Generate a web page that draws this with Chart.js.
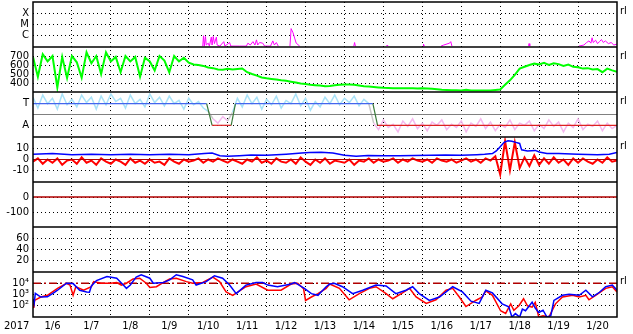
<!DOCTYPE html>
<html>
<head>
<meta charset="utf-8">
<script src="https://cdn.jsdelivr.net/npm/chart.js@4.4.1/dist/chart.umd.min.js"></script>
<style>
  html, body { margin: 0; padding: 0; background: #fff; }
  #wrap { width: 633px; height: 334px; }
</style>
</head>
<body>
<div id="wrap"><canvas id="chart" width="633" height="334"></canvas></div>
<script>
// x = days since 2017-01-06 00:00 UT
const dayLabels = ['1/6', '1/7', '1/8', '1/9', '1/10', '1/11', '1/12', '1/13', '1/14', '1/15', '1/16', '1/17', '1/18', '1/19', '1/20'];
const step3h = Array.from({ length: 121 }, (_, i) => i / 8);

// X-ray flux (W/m2)
const xrayT = [4.36, 4.38, 4.40, 4.43, 4.45, 4.50, 4.53, 4.58, 4.60, 4.63, 4.66, 4.71, 4.73, 4.80, 4.90, 4.93, 5.05, 5.08, 5.30, 5.48, 5.52, 5.58, 5.65, 5.70, 5.74, 5.77, 5.82, 5.90, 5.95, 6.10, 6.16, 6.20, 6.25, 6.30, 6.31,
  6.60, 6.63, 6.68, 6.72, 6.76, 6.85, 6.86, 8.24, 8.26, 8.28, 8.29, 9.08, 9.10, 9.12, 9.13, 10.02, 10.03, 10.05, 10.06,
  10.48, 10.55, 10.70, 10.73, 10.76, 10.77, 12.73, 12.74, 12.76, 12.77,
  14.02, 14.15, 14.22, 14.28, 14.33, 14.36, 14.39, 14.45, 14.50, 14.55, 14.60, 14.65, 14.70, 14.78, 14.85, 14.92, 15.0];
const xrayV = [1.2e-7, 1e-6, 1.2e-7, 8.7e-7, 1.5e-7, 2.2e-7, 1.2e-7, 7.6e-7, 1.5e-7, 8.7e-7, 2e-7, 7.6e-7, 1.5e-7, 1.2e-7, 3e-7, 1.2e-7, 2.5e-7, 1.2e-7, 1.2e-7, 1.2e-7, 2.2e-7, 1.5e-7, 3e-7, 1.5e-7, 4.3e-7, 1.5e-7, 2.5e-7, 2.2e-7, 1.2e-7, 1.2e-7, 3.5e-7, 1.5e-7, 2.5e-7, 1.2e-7, null,
  1.2e-7, 4.3e-6, 1.8e-6, 6.2e-7, 2.2e-7, 1.2e-7, null, 1.2e-7, 2.5e-7, 1.2e-7, null, 1.2e-7, 1.5e-7, 1.2e-7, null, 1.2e-7, 1.8e-7, 1.2e-7, null,
  1.2e-7, 1.5e-7, 2.2e-7, 3e-7, 1.2e-7, null, 1.2e-7, 2e-7, 1.2e-7, null,
  1.2e-7, 1.5e-7, 2.5e-7, 3.5e-7, 2.2e-7, 6.6e-7, 2.5e-7, 4e-7, 2e-7, 3e-7, 4.6e-7, 2.5e-7, 3.5e-7, 2e-7, 2.5e-7, 1.5e-7, 1.8e-7];
const xrayTicks = [1e-6, 1e-5, 1e-4];
const xrayLabels = ['C', 'M', 'X'];

// solar wind speed (km/s), 3-hourly
const speed = [690, 470, 720, 640, 700, 350, 690, 455,
  700, 630, 460, 740, 620, 700, 500, 740,
  640, 690, 520, 700, 640, 690, 470, 680,
  640, 540, 700, 650, 520, 700, 640, 680,
  625, 605, 600, 590, 572, 565, 550, 548,
  558, 550, 556, 562, 520, 500, 482, 462,
  452, 445, 438, 430, 425, 415, 405, 395,
  388, 380, 376, 372, 365, 368, 375, 380,
  382, 383, 380, 372, 364, 360, 355, 350,
  346, 345, 343, 342, 341, 342, 342, 340,
  341, 338, 336, 330, 325, 322, 320, 319,
  318, 326, 318, 316, 316, 316, 318, 322,
  327, 380, 430, 490, 560, 580, 600, 615,
  605, 625, 600, 620, 610, 590, 605, 580,
  575, 560, 565, 550, 555, 520, 560, 540, 525];
const speedTicks = [400, 500, 600, 700];

// IMF sector (T = 1, A = -1) and angle scatter
const sectorT = [0, 4.46, 4.6, 5.09, 5.2, 8.73, 8.85, 15];
const sectorV = [1, 1, -1, -1, 1, 1, -1, -1];
const phi = [1.6, 0.6, 1.8, 1.0, 1.5, 0.5, 1.9, 0.9, 1.4, 0.7, 1.8, 1.1, 1.6, 0.5, 1.7, 0.9,
  1.9, 1.2, 1.5, 0.6, 1.8, 1.0, 1.4, 0.7, 1.9, 1.1, 1.6, 0.8, 1.7, 1.0, 1.3, 0.5,
  1.5, 0.9, 1.2, 0.6,
  0.3, -0.4, -0.8, -0.2, -0.6, 0.2,
  1.5, 0.7, 1.8, 1.0, 1.6, 0.5, 1.4, 0.9, 1.7, 0.6, 1.3, 1.0, 1.9, 0.8, 1.5, 0.4,
  1.2, 0.7, 1.6, 1.0, 1.8, 0.9, 1.5, 1.1, 1.7, 0.8, 1.4, 1.0,
  -0.8, -1.4, -0.5, -1.2, -0.9, -1.6, -0.6, -1.1, -0.4, -1.3, -0.8, -1.5, -0.7, -1.0, -0.5, -1.4,
  -0.9, -1.2, -0.6, -1.6, -0.8, -1.1, -0.4, -1.3, -0.7, -1.5, -0.9, -1.2, -0.5, -1.4, -0.8, -1.0,
  -0.6, -1.5, -0.9, -1.3, -0.5, -1.1, -0.7, -1.6, -0.8, -1.2, -0.4, -1.4, -0.9, -1.1, -0.6, -1.5,
  -0.8, -1.3, -1.0];
const sectorTicks = [-1, 1];

// IMF Bt and Bz (nT)
const btT = [0, 0.5, 1, 1.5, 2, 2.5, 3, 3.5, 4, 4.4, 4.6, 4.8, 5.0, 5.3, 5.6, 6.0, 6.5, 6.9, 7.1, 7.4,
  7.7, 8.0, 8.3, 8.6, 9.0, 9.4, 9.8, 10.2, 10.6, 11.0, 11.4, 11.6, 11.8, 11.9, 12.0, 12.1, 12.2, 12.3, 12.4, 12.5,
  12.55, 12.7, 12.9, 13.0, 13.2, 13.5, 14.0, 14.5, 14.8, 15];
const btV = [5, 5.5, 4.5, 5, 4.5, 4.8, 4.5, 4.8, 4.5, 5.5, 6, 3.5, 3, 3.5, 4.2, 4, 5, 6, 6.5, 6.8,
  6, 4, 3, 3.8, 3.5, 3.6, 3.8, 4, 4.2, 4, 4.5, 4.8, 5.5, 8, 12, 16, 17.5, 17, 16, 15,
  9, 8, 8.5, 7, 5.5, 5.5, 5, 4.5, 5, 6.5];
const bz = [-2, 1, -4, 0, -3, 1, -5, -1,
  0, -4, 2, -3, -1, -5, 1, -2,
  -4, 0, -2, -5, 1, -3, -1, -4,
  0, -3, -2, -5, 1, -2, -4, 0,
  -2, -1, 1, -3, 0, -2, 1, -1,
  -3, 0, -2, -4, 0, -2, 2, -3,
  -1, -4, 1, -2, -3, 0, -4, 2,
  -2, -5, 0, -3, 1, -4, -1, -2,
  -3, 0, -5, -1, -2, 1, -3, 0,
  -2, -1, 1, -3, 0, -2, 1, -1,
  -2, 0, -3, 1, -1, -2, 0, -3,
  -1, 1, -2, 0, -3, 1, -1, 3,
  -14, 17, -10, 16, -8, 2, -6, 4,
  -5, 1, -4, 2, -3, 0, -5, 1,
  -3, 1, -2, -4, 0, -3, 2, -2, -1];
const imfTicks = [-10, 0, 10];

// Dst (nT)
const dstT = [0, 15];
const dstV = [0, 0];
const dstTicks = [-100, 0];

const emptyTicks = [20, 40, 60];

// electron flux
const eBlueT = [0, 0.03, 0.06, 0.2, 0.37, 0.55, 0.63, 0.86, 1.03, 1.2, 1.38, 1.45, 1.5, 1.63, 1.9, 2.15, 2.32, 2.4, 2.5, 2.65,
  2.78, 3.0, 3.09, 3.35, 3.51, 3.68, 3.85, 4.1, 4.19, 4.45, 4.66, 4.87, 5.05, 5.22, 5.47, 5.73, 5.9, 6.03, 6.28, 6.63,
  6.72, 6.97, 7.15, 7.32, 7.4, 7.53, 7.62, 7.74, 7.95, 8.21, 8.47, 8.81, 9.07, 9.32, 9.58, 9.75, 9.92, 10.18, 10.44, 10.78,
  11.03, 11.25, 11.46, 11.63, 11.8, 12.05, 12.22, 12.3, 12.39, 12.5, 12.57, 12.65, 12.75, 12.82, 12.9, 12.99, 13.1, 13.2, 13.3, 13.38,
  13.6, 13.77, 14.03, 14.2, 14.37, 14.55, 14.71, 14.88, 15];
const eBlueV = [400, 160, 1260, 590, 630, 1580, 2400, 10000, 9300, 2400, 1700, 1580, 5750, 17400, 40000, 28000, 6900, 3500, 6900, 35000,
  57500, 28000, 10000, 11700, 20000, 57500, 40000, 20000, 6900, 14000, 46800, 28000, 6900, 1200, 6900, 11700, 11700, 6900, 4900, 8500,
  11700, 3500, 1200, 850, 1700, 4900, 8500, 10000, 4900, 1200, 2400, 6900, 5750, 1200, 2400, 4900, 1200, 295, 600, 4900,
  1700, 257, 160, 2400, 1380, 148, 79, 10, 20, 10, 50, 36, 100, 209, 63, 25, 40, 10, 13, 295,
  850, 1050, 850, 2400, 630, 1580, 4900, 6900, 2400];
const eRedT = [0, 0.02, 0.04, 0.2, 0.37, 0.63, 0.86, 0.95, 1.03, 1.1, 1.3, 1.5, 1.56, 1.75, 1.99, 2.15, 2.27, 2.4, 2.57, 2.74,
  2.91, 3.0, 3.17, 3.35, 3.51, 3.68, 3.94, 4.1, 4.36, 4.62, 4.79, 4.96, 5.13, 5.47, 5.73, 6.03, 6.37, 6.63, 6.8, 6.95,
  7.0, 7.15, 7.32, 7.53, 7.62, 7.87, 8.12, 8.38, 8.64, 8.81, 9.07, 9.24, 9.49, 9.67, 9.84, 10.1, 10.35, 10.61, 10.78, 10.95,
  11.12, 11.37, 11.54, 11.63, 11.8, 12.01, 12.14, 12.27, 12.35, 12.48, 12.6, 12.7, 12.82, 12.9, 12.99, 13.1, 13.25, 13.42, 13.6, 13.86,
  14.03, 14.2, 14.28, 14.45, 14.71, 14.88, 15];
const eRedV = [160, 63, 295, 600, 850, 3500, 10000, 6900, 850, 4900, 2400, 4900, 14000, 10000, 10000, 11500, 6900, 10000, 24000, 28000,
  10000, 4300, 4900, 11700, 24000, 28000, 14000, 10000, 11700, 35000, 14000, 1700, 850, 4900, 8500, 2400, 2400, 8500, 10000, 3200,
  295, 600, 1200, 3500, 8500, 3500, 340, 1200, 3500, 4900, 1200, 420, 1380, 3500, 600, 160, 340, 2400, 3500, 600,
  85, 295, 600, 2100, 850, 36, 21, 148, 40, 100, 420, 100, 74, 200, 10, 13, 10, 148, 600, 850,
  600, 850, 340, 850, 3500, 4900, 1700];
const elecLevel = 1e4;
const elecTicks = [100, 1000, 10000];
const elecLabels = ['10²', '10³', '10⁴'];

const pts = (t, v) => t.map((x, i) => ({ x: x, y: v[i] }));

Chart.defaults.font.family = 'DejaVu Sans';
Chart.defaults.font.size = 10;
Chart.defaults.color = '#000';

function panel(weight, type, min, max, tickList, label) {
  return {
    type: type, min: min, max: max, position: 'left', stack: 'panels', stackWeight: 1, weight: weight,
    grid: { color: '#000', lineWidth: 1, drawTicks: false },
    border: { display: false, dash: [1, 3] },
    ticks: { color: '#000', padding: 4, autoSkip: false, callback: label || (v => String(v)) },
    afterBuildTicks: s => { s.ticks = tickList.map(v => ({ value: v })); },
    afterFit: s => { s.width = 33; s.paddingTop = 0; s.paddingBottom = 0; }
  };
}

const line = (o) => Object.assign({ type: 'line', pointRadius: 0, borderWidth: 1, tension: 0, fill: false, spanGaps: false }, o);

const framePlugin = {
  id: 'frame',
  afterDraw(chart) {
    const c = chart.ctx, a = chart.chartArea;
    c.save();
    c.strokeStyle = '#000';
    c.lineWidth = 1.5;
    c.strokeRect(a.left, a.top, a.right - a.left, a.bottom - a.top);
    ['p1', 'p2', 'p3', 'p4', 'p5', 'p6'].forEach(id => {
      const y = chart.scales[id].bottom;
      c.beginPath(); c.moveTo(a.left, y); c.lineTo(a.right, y); c.stroke();
    });
    c.fillStyle = '#000';
    c.font = '10px "DejaVu Sans"';
    c.textBaseline = 'middle';
    c.textAlign = 'left';
    c.fillText('2017', 4, 326);
    ['p1', 'p2', 'p3', 'p4', 'p7'].forEach(id => {
      c.fillText('rl', a.right + 3, chart.scales[id].top + 9);
    });
    c.restore();
  }
};

new Chart(document.getElementById('chart'), {
  data: {
    datasets: [
      line({ data: pts(xrayT, xrayV), yAxisID: 'p1', borderColor: '#ff00ff', order: 5 }),
      line({ data: pts(step3h, speed), yAxisID: 'p2', borderColor: '#00ff00', borderWidth: 2, order: 5 }),
      line({ data: pts(step3h, phi), yAxisID: 'p3', borderColor: '#a8e2f8', borderWidth: 1.5, order: 6,
        segment: { borderColor: s => (s.p0.parsed.y > 0 && s.p1.parsed.y > 0) ? '#a8e2f8' : (s.p0.parsed.y < 0 && s.p1.parsed.y < 0) ? '#f4b8ee' : '#c8c8c8' } }),
      line({ data: pts([0, 15], [0, 0]), yAxisID: 'p3', borderColor: '#808080', order: 3 }),
      line({ data: pts(sectorT, sectorV), yAxisID: 'p3', borderColor: '#4466ee', borderWidth: 1.2, order: 2,
        segment: { borderColor: s => (s.p0.parsed.y > 0 && s.p1.parsed.y > 0) ? '#4466ee' : (s.p0.parsed.y < 0 && s.p1.parsed.y < 0) ? '#dd2222' : '#3a7a3a' } }),
      line({ data: pts(step3h, bz), yAxisID: 'p4', borderColor: '#ff0000', borderWidth: 2, order: 5 }),
      line({ data: pts(btT, btV), yAxisID: 'p4', borderColor: '#0000ff', borderWidth: 1.5, order: 4 }),
      line({ data: pts([0, 15], [0, 0]), yAxisID: 'p4', borderColor: '#b00000', order: 2 }),
      line({ data: pts(dstT, dstV), yAxisID: 'p5', borderColor: '#b00000', borderWidth: 1.5, order: 2 }),
      line({ data: pts([0, 15], [elecLevel, elecLevel]), yAxisID: 'p7', borderColor: '#b00000', borderWidth: 1.5, borderDash: [8, 3, 2, 3], order: 6 }),
      line({ data: pts(eRedT, eRedV), yAxisID: 'p7', borderColor: '#ff0000', borderWidth: 1.5, order: 4 }),
      line({ data: pts(eBlueT, eBlueV), yAxisID: 'p7', borderColor: '#0000ff', borderWidth: 1.5, order: 3 })
    ]
  },
  options: {
    responsive: false,
    maintainAspectRatio: false,
    devicePixelRatio: 1,
    animation: false,
    events: [],
    layout: { padding: { top: 2, right: 16, bottom: 0, left: 0 } },
    plugins: { legend: { display: false }, tooltip: { enabled: false } },
    scales: {
      x: {
        type: 'linear', min: 0, max: 15, position: 'bottom',
        grid: { color: c => { const v = c.tick ? c.tick.value : -1; return (Number.isInteger(v) && v > 0 && v < 15) ? '#000' : 'rgba(0,0,0,0)'; }, lineWidth: 1, drawTicks: false },
        border: { display: false, dash: [1, 3] },
        ticks: { color: '#000', padding: 3, autoSkip: false, maxRotation: 0,
          callback: v => Number.isInteger(v - 0.5) ? dayLabels[v - 0.5] : '' },
        afterBuildTicks: s => { const t = []; for (let i = 0; i <= 30; i++) t.push({ value: i / 2 }); s.ticks = t; },
        afterFit: s => { s.height = 17; s.paddingLeft = 0; s.paddingRight = 0; }
      },
      p1: panel(7, 'logarithmic', 1e-7, 1e-3, xrayTicks, v => xrayLabels[xrayTicks.findIndex(t => Math.abs(t - v) < t * 0.01)] || ''),
      p2: panel(6, 'linear', 300, 800, speedTicks),
      p3: panel(5, 'linear', -2.08, 2.08, sectorTicks, v => v === 1 ? 'T' : v === -1 ? 'A' : ''),
      p4: panel(4, 'linear', -21, 21, imfTicks),
      p5: panel(3, 'linear', -200, 100, dstTicks),
      p6: panel(2, 'linear', 0, 80, emptyTicks),
      p7: panel(1, 'logarithmic', 10, 1e5, elecTicks, v => elecLabels[elecTicks.findIndex(t => Math.abs(t - v) < t * 0.01)] || '')
    }
  },
  plugins: [framePlugin]
});
</script>
</body>
</html>
